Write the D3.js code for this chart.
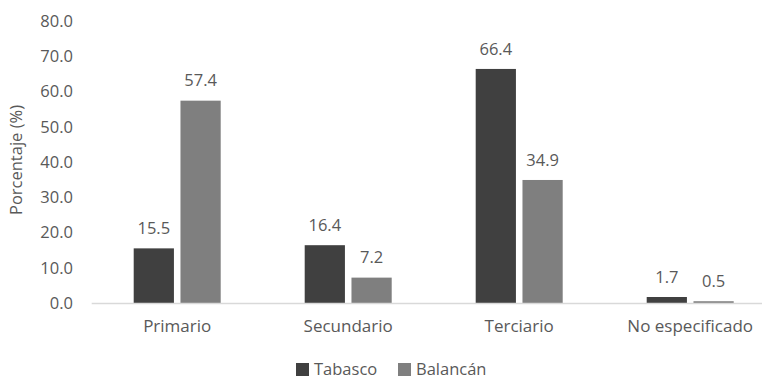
<!DOCTYPE html>
<html>
<head>
<meta charset="utf-8">
<script src="https://cdn.jsdelivr.net/npm/d3@7"></script>
<style>
  body { margin: 0; background: #fff; }
  svg text { font-family: 'Open Sans', sans-serif; fill: #595959; }
</style>
</head>
<body>
<div id="chart"></div>
<script>
  var categories = ['Primario', 'Secundario', 'Terciario', 'No especificado'];
  var seriesNames = ['Tabasco', 'Balancán'];
  var tabasco = [15.5, 16.4, 66.4, 1.7];
  var balancan = [57.4, 7.2, 34.9, 0.5];
  var yTicks = [0, 10, 20, 30, 40, 50, 60, 70, 80];
  var colors = ['#404040', '#7f7f7f'];

  var width = 762;
  var height = 381;
  var left = 91.7;
  var bandWidth = 171;

  var svg = d3.select('#chart')
    .append('svg')
    .attr('width', width)
    .attr('height', height);

  var xScale = d3.scaleBand()
    .domain(categories)
    .range([left, left + bandWidth * categories.length])
    .padding(0);

  var yScale = d3.scaleLinear().domain([0, 80]).range([303, 21]);

  // Bars sit side by side in the middle of each band.
  var inner = d3.scaleBand()
    .domain(seriesNames)
    .range([42, bandWidth - 42])
    .paddingInner(0.14);

  // y tick labels (no gridlines)
  svg.append('g')
    .selectAll('text')
    .data(yTicks)
    .enter().append('text')
    .attr('x', 73)
    .attr('y', function(d) { return yScale(d); })
    .attr('dy', '0.35em')
    .attr('text-anchor', 'end')
    .style('font-size', '16.5px')
    .text(function(d) { return d.toFixed(1); });

  svg.append('text')
    .attr('transform', 'translate(22,160) rotate(-90)')
    .attr('text-anchor', 'middle')
    .style('font-size', '16.5px')
    .text('Porcentaje (%)');

  var rows = categories.map(function(c, i) {
    return [
      { cat: c, name: seriesNames[0], value: tabasco[i] },
      { cat: c, name: seriesNames[1], value: balancan[i] }
    ];
  });
  var flat = d3.merge(rows);

  svg.append('g')
    .selectAll('rect')
    .data(flat)
    .enter().append('rect')
    .attr('x', function(d) { return xScale(d.cat) + inner(d.name); })
    .attr('y', function(d) { return yScale(d.value); })
    .attr('width', inner.bandwidth())
    .attr('height', function(d) { return yScale(0) - yScale(d.value); })
    .attr('fill', function(d) { return colors[seriesNames.indexOf(d.name)]; });

  svg.append('g')
    .selectAll('text')
    .data(flat)
    .enter().append('text')
    .attr('x', function(d) { return xScale(d.cat) + inner(d.name) + inner.bandwidth() / 2; })
    .attr('y', function(d) { return yScale(d.value) - 20; })
    .attr('dy', '0.35em')
    .attr('text-anchor', 'middle')
    .style('font-size', '16.5px')
    .text(function(d) { return d.value.toFixed(1); });

  // x axis baseline
  svg.append('line')
    .attr('x1', left)
    .attr('x2', left + bandWidth * categories.length)
    .attr('y1', yScale(0) + 0.5)
    .attr('y2', yScale(0) + 0.5)
    .attr('stroke', '#d9d9d9')
    .attr('stroke-width', 1.3);

  svg.append('g')
    .selectAll('text')
    .data(categories)
    .enter().append('text')
    .attr('x', function(d) { return xScale(d) + bandWidth / 2; })
    .attr('y', 326)
    .attr('dy', '0.35em')
    .attr('text-anchor', 'middle')
    .style('font-size', '17px')
    .text(function(d) { return d; });

  // Legend
  var legendX = [296, 398];
  var legend = svg.append('g')
    .selectAll('g')
    .data(seriesNames)
    .enter().append('g')
    .attr('transform', function(d, i) { return 'translate(' + legendX[i] + ',363)'; });

  legend.append('rect')
    .attr('width', 13)
    .attr('height', 13)
    .attr('fill', function(d, i) { return colors[i]; });

  legend.append('text')
    .attr('x', 18)
    .attr('y', 6.5)
    .attr('dy', '0.35em')
    .style('font-size', '16.5px')
    .text(function(d) { return d; });
</script>
</body>
</html>
